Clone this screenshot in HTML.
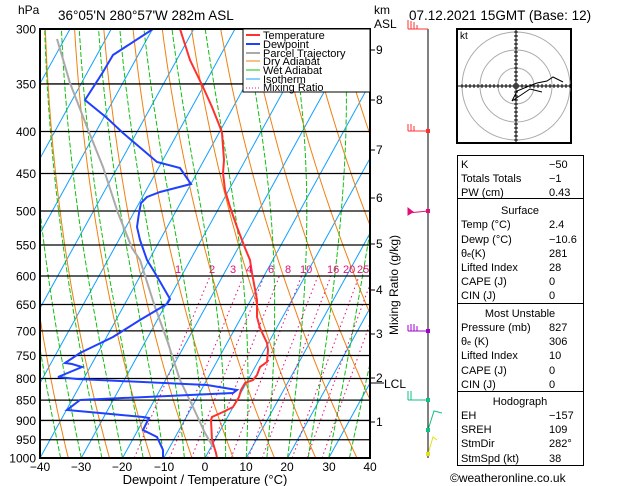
<!DOCTYPE html>
<html><head><meta charset="utf-8"><style>
body{margin:0;background:#fff;width:629px;height:486px;overflow:hidden}
svg{position:absolute;left:0;top:0}
text{font-family:"Liberation Sans",sans-serif;fill:#000}
</style></head><body>
<svg id="s" width="629" height="486" xmlns="http://www.w3.org/2000/svg">
<defs><clipPath id="c"><rect x="40" y="29" width="330" height="429"/></clipPath></defs>
<g id="bg" clip-path="url(#c)"></g>
<g id="pl"></g>
<g clip-path="url(#c)">
<polyline fill="none" stroke="#aaa" stroke-width="2" points="57,39 70,83 87,127 103,167 118,213 132,248 140,260 155,307 167,340 180,380 193,407 205,433 213,447"/>
<polyline fill="none" stroke="#2040ff" stroke-width="2" points="153,29 113,55 103,72 85,100 107,118 123,133 143,150 157,162 180,168 191,184 160,192 147,197 141,203 139,213 137,227 140,240 147,260 155,273 170,299 167,304 140,320 113,337 80,353 65,363 72,364 82,367 58,377 77,379 207,385 237,390 233,393 80,400 67,410 100,413 143,417 149,418 143,430 157,437 163,450 163,457"/>
<polyline fill="none" stroke="#ff3030" stroke-width="2" points="180,29 190,60 203,87 212,107 220,127 222,133 224,160 223,173 225,190 230,207 237,227 245,248 250,260 252,273 257,300 257,317 260,328 267,343 268,350 267,362 260,367 257,375 253,380 245,383 241,390 239,397 233,407 223,412 212,417 211,420 212,440 216,453 217,458"/>
</g>
<rect x="40" y="29" width="330" height="429" fill="none" stroke="#000" stroke-width="2"/>
<rect x="243" y="29" width="127" height="63" fill="#fff" stroke="#000" stroke-width="1"/>
<g font-size="11">
<line x1="246" y1="35" x2="260" y2="35" stroke="#ff3030" stroke-width="2"/><text x="263" y="39">Temperature</text>
<line x1="246" y1="44" x2="260" y2="44" stroke="#2040ff" stroke-width="2"/><text x="263" y="48">Dewpoint</text>
<line x1="246" y1="53" x2="260" y2="53" stroke="#aaa" stroke-width="2"/><text x="263" y="57">Parcel Trajectory</text>
<line x1="246" y1="61" x2="260" y2="61" stroke="#f08010"/><text x="263" y="65">Dry Adiabat</text>
<line x1="246" y1="70" x2="260" y2="70" stroke="#10c010"/><text x="263" y="74">Wet Adiabat</text>
<line x1="246" y1="79" x2="260" y2="79" stroke="#10a0ff"/><text x="263" y="83">Isotherm</text>
<line x1="246" y1="88" x2="260" y2="88" stroke="#e0107a" stroke-dasharray="1,2"/><text x="263" y="91">Mixing Ratio</text>
</g>
<g font-size="12">
<text x="18" y="14">hPa</text>
<text x="58" y="20" font-size="13.5">36°05'N  280°57'W  282m  ASL</text>
<text x="374" y="14">km</text><text x="374" y="28">ASL</text>
<text x="409" y="20" font-size="13.5">07.12.2021  15GMT  (Base: 12)</text>
</g>
<g id="lab" font-size="12" text-anchor="end"></g>
<g font-size="12" text-anchor="middle">
<text x="40" y="471">−40</text><text x="81" y="471">−30</text><text x="122" y="471">−20</text><text x="164" y="471">−10</text><text x="205" y="471">0</text><text x="246" y="471">10</text><text x="287" y="471">20</text><text x="329" y="471">30</text><text x="370" y="471">40</text>
<text x="205" y="484" font-size="13">Dewpoint / Temperature (°C)</text>
</g>
<g font-size="11">
<text x="175" y="273" style="fill:#e0107a">1</text><text x="209" y="273" style="fill:#e0107a">2</text><text x="230" y="273" style="fill:#e0107a">3</text><text x="246" y="273" style="fill:#e0107a">4</text><text x="268" y="273" style="fill:#e0107a">6</text><text x="285" y="273" style="fill:#e0107a">8</text><text x="300" y="273" style="fill:#e0107a">10</text><text x="327" y="273" style="fill:#e0107a">16</text><text x="343" y="273" style="fill:#e0107a">20</text><text x="357" y="273" style="fill:#e0107a">25</text>
</g>
<g font-size="12">
<text x="376" y="54">9</text><text x="376" y="104">8</text><text x="376" y="154">7</text><text x="376" y="202">6</text><text x="376" y="248">5</text><text x="376" y="294">4</text><text x="376" y="338">3</text><text x="376" y="382">2</text><text x="376" y="426">1</text>
<text x="384" y="388">LCL</text>
<text transform="translate(398,335) rotate(-90)" font-size="12">Mixing Ratio (g/kg)</text>
</g>
<g stroke="#000"><line x1="370" y1="50" x2="375" y2="50"/><line x1="370" y1="100" x2="375" y2="100"/><line x1="370" y1="150" x2="375" y2="150"/><line x1="370" y1="198" x2="375" y2="198"/><line x1="370" y1="244" x2="375" y2="244"/><line x1="370" y1="290" x2="375" y2="290"/><line x1="370" y1="334" x2="375" y2="334"/><line x1="370" y1="378" x2="375" y2="378"/><line x1="370" y1="422" x2="375" y2="422"/><line x1="370" y1="383" x2="384" y2="383"/></g>
<line x1="428" y1="29" x2="428" y2="458" stroke="#000"/>
<g stroke="#ff3030" fill="none"><path d="M428,29 H408 M408,29 V20 M411,29 V21 M414,29 V22 M417,29 V25"/><path d="M428,131 H408 M408,131 V124 M411,131 V124 M414,131 V126"/></g>
<g stroke="#e0107a" fill="#e0107a"><path d="M428,211 L408,213 M408,208 L408,215 L413,212 Z"/></g>
<rect x="426" y="209" width="4" height="4" fill="#e0107a"/>
<rect x="426" y="129" width="4" height="4" fill="#ff3030"/>
<rect x="426" y="329" width="4" height="4" fill="#a000d0"/>
<g stroke="#a000d0" fill="none"><path d="M428,331 H408 M408,331 V325 M411,331 V324 M414,331 V324 M417,331 V326"/></g>
<g stroke="#10c080" fill="none"><path d="M428,400 H408 M408,400 V391 M411,400 V391"/><path d="M428,430 L434,411 L442,413"/></g>
<g stroke="#e0e020" fill="none"><path d="M428,454 L433,437 L437,440"/></g>
<rect x="426" y="398" width="4" height="4" fill="#10c080"/><rect x="426" y="428" width="4" height="4" fill="#10c080"/><rect x="426" y="452" width="4" height="4" fill="#e0e020"/>
<rect x="457" y="29" width="114" height="114" fill="#fff" stroke="#000" stroke-width="2"/>
<g fill="none" stroke="#aaa"><circle cx="516" cy="86" r="18"/><circle cx="516" cy="86" r="36"/><circle cx="516" cy="86" r="54"/></g>
<g stroke="#000"><line x1="458" y1="86" x2="570" y2="86"/><line x1="516" y1="30" x2="516" y2="142"/></g>
<g id="ht" stroke="#000"></g>
<polyline fill="none" stroke="#000" points="512,101 517,91 529,86 537,83 547,81 553,77 563,82"/>
<polyline fill="none" stroke="#000" points="512,101 530,89 542,92"/>
<text x="460" y="39" font-size="10">kt</text>
<g fill="none" stroke="#000"><rect x="457.5" y="155.5" width="126" height="43"/><rect x="457.5" y="198.5" width="126" height="105"/><rect x="457.5" y="303.5" width="126" height="88"/><rect x="457.5" y="391.5" width="126" height="74"/></g>
<g font-size="11">
<text x="461" y="168">K</text><text x="549" y="168">−50</text>
<text x="461" y="182">Totals Totals</text><text x="549" y="182">−1</text>
<text x="461" y="196">PW (cm)</text><text x="549" y="196">0.43</text>
<text x="520" y="214" text-anchor="middle">Surface</text>
<text x="461" y="228">Temp (°C)</text><text x="549" y="228">2.4</text>
<text x="461" y="243">Dewp (°C)</text><text x="549" y="243">−10.6</text>
<text x="461" y="257">θ<tspan font-size="7">e</tspan>(K)</text><text x="549" y="257">281</text>
<text x="461" y="271">Lifted Index</text><text x="549" y="271">28</text>
<text x="461" y="285">CAPE (J)</text><text x="549" y="285">0</text>
<text x="461" y="299">CIN (J)</text><text x="549" y="299">0</text>
<text x="520" y="317" text-anchor="middle">Most Unstable</text>
<text x="461" y="331">Pressure (mb)</text><text x="549" y="331">827</text>
<text x="461" y="345">θ<tspan font-size="7">e</tspan> (K)</text><text x="549" y="345">306</text>
<text x="461" y="359">Lifted Index</text><text x="549" y="359">10</text>
<text x="461" y="374">CAPE (J)</text><text x="549" y="374">0</text>
<text x="461" y="388">CIN (J)</text><text x="549" y="388">0</text>
<text x="520" y="405" text-anchor="middle">Hodograph</text>
<text x="461" y="419">EH</text><text x="549" y="419">−157</text>
<text x="461" y="433">SREH</text><text x="549" y="433">109</text>
<text x="461" y="447">StmDir</text><text x="549" y="447">282°</text>
<text x="461" y="462">StmSpd (kt)</text><text x="549" y="462">38</text>
<text x="450" y="482" font-size="12">©weatheronline.co.uk</text>
</g>
</svg>
<script>
var NS="http://www.w3.org/2000/svg";
function Y(p){return 29+Math.log(p/300)/Math.log(1000/300)*429;}
function X(T,p){return 40+(T+40)*4.125+(458-Y(p))*0.5507;}
function el(g,n,a){var e=document.createElementNS(NS,n);for(var k in a)e.setAttribute(k,a[k]);g.appendChild(e);return e;}
var bg=document.getElementById('bg'),pl=document.getElementById('pl'),lab=document.getElementById('lab');
for(var T=-110;T<=40;T+=10){el(bg,'line',{x1:X(T,1000),y1:458,x2:X(T,300),y2:29,stroke:'#10a0ff','stroke-width':1});}
for(var th=230;th<=470;th+=10){var pts=[];for(var p=1000;p>=300;p-=10){pts.push(X(th*Math.pow(p/1000,0.286)-273.15,p).toFixed(1)+','+Y(p).toFixed(1));}el(bg,'polyline',{points:pts.join(' '),fill:'none',stroke:'#f08010'});}
function es(T){return 6.112*Math.exp(17.67*T/(T+243.5));}
for(var t0=-40;t0<=40;t0+=5){var T=t0+273.15,pts=[];for(var p=1000;p>=300;p-=5){pts.push(X(T-273.15,p).toFixed(1)+','+Y(p).toFixed(1));var rs=0.622*es(T-273.15)/(p-es(T-273.15));var d=(287*T+2.5e6*rs)/(1004+2.5e6*2.5e6*rs*0.622/(287*T*T))/p;T-=d*5;}
el(bg,'polyline',{points:pts.join(' '),fill:'none',stroke:'#10c010','stroke-dasharray':'5,2'});}
[1,2,3,4,6,8,10,16,20,25].forEach(function(w){var pts=[];for(var p=1000;p>=600;p-=10){var e=w*p/(622+w),l=Math.log(e/6.112),Td=243.5*l/(17.67-l);pts.push(X(Td,p).toFixed(1)+','+Y(p).toFixed(1));}el(bg,'polyline',{points:pts.join(' '),fill:'none',stroke:'#e0107a','stroke-dasharray':'1.5,3'});});
[300,350,400,450,500,550,600,650,700,750,800,850,900,950,1000].forEach(function(p){var y=Y(p);el(pl,'line',{x1:40,y1:y,x2:370,y2:y,stroke:'#000','stroke-width':1.3});var t=el(lab,'text',{x:36,y:y+4.5});t.textContent=p;});
var ht=document.getElementById('ht');for(var i=-54;i<=54;i+=4){if(i==0)continue;el(ht,'line',{x1:516+i,y1:84,x2:516+i,y2:88});el(ht,'line',{x1:514,y1:86+i,x2:518,y2:86+i});}
</script>
</body></html>
